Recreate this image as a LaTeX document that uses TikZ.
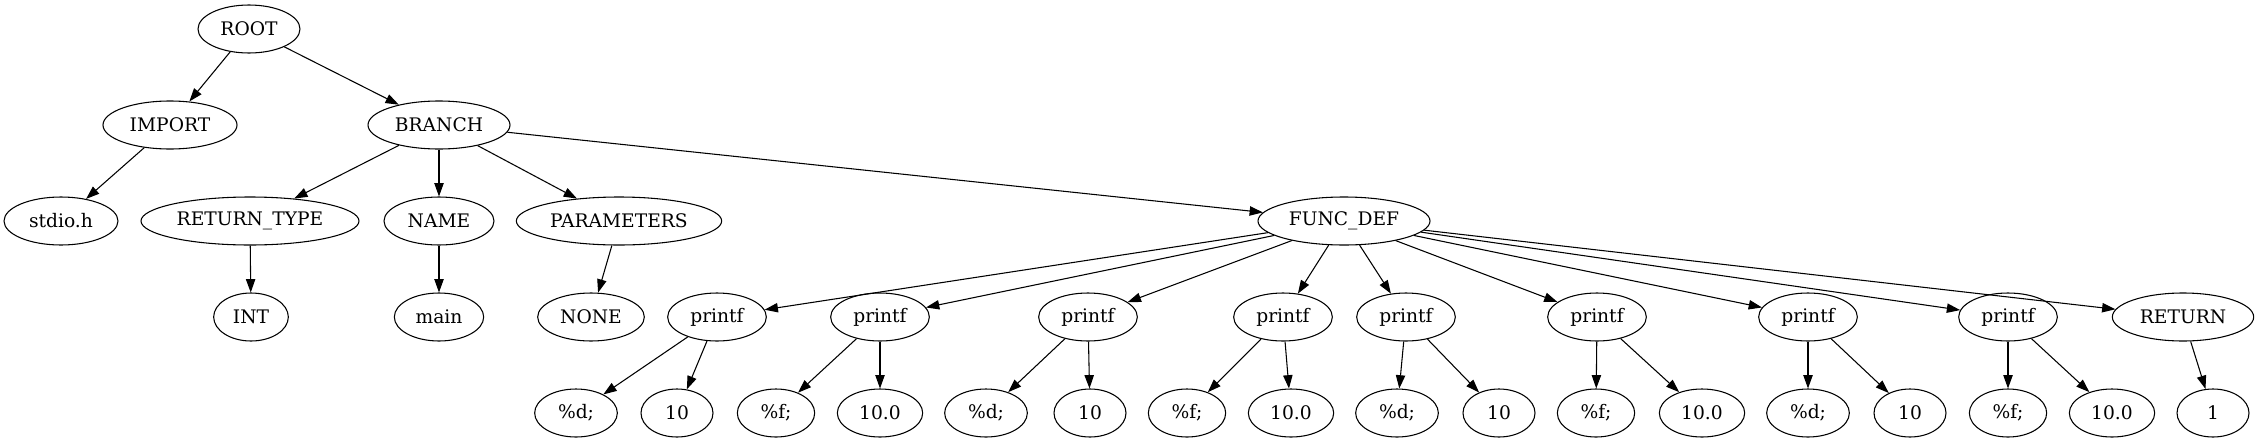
\documentclass[tikz,border=0pt]{standalone}
\usepackage{fontspec}
\setmainfont{DejaVu Serif}
\usetikzlibrary{shapes.geometric,arrows.meta}
\begin{document}
\begin{tikzpicture}[x=0.75pt,y=-0.75pt,%
                    v/.style={draw,ellipse,line width=0.8pt,inner sep=0pt,%
                    minimum width=#1pt,minimum height=36pt,%
                    font=\fontsize{14}{16}\selectfont},%
                    v/.default=54,%
                    e/.style={line width=0.8pt,-{Triangle[length=10pt,width=7pt]}}]
  \useasboundingbox (0,0) rectangle (2259,443);
  % rank 0 and 1
  \node[v=76.5] (root) at (249,29) {ROOT};
  \node[v=100.5] (import) at (170,125) {IMPORT};
  \node[v=106.5] (branch) at (439,125) {BRANCH};
  % rank 2
  \node[v=85.5] (stdio) at (61,221) {stdio.h};
  \node[v=163.5] (rettype) at (250,221) {RETURN\_TYPE};
  \node[v=82.5] (name) at (439,221) {NAME};
  \node[v=154] (params) at (619,221) {PARAMETERS};
  \node[v=129] (funcdef) at (1344,221) {FUNC\_DEF};
  % rank 3
  \node[v=56] (int) at (251,317) {INT};
  \node[v=67] (main) at (439,317) {main};
  \node[v=80] (none) at (591,317) {NONE};
  \node[v=74] (p1) at (717,317) {printf};
  \node[v=74] (p2) at (880,317) {printf};
  \node[v=74] (p3) at (1088,317) {printf};
  \node[v=74] (p4) at (1283,317) {printf};
  \node[v=74] (p5) at (1406,317) {printf};
  \node[v=74] (p6) at (1597,317) {printf};
  \node[v=74] (p7) at (1808,317) {printf};
  \node[v=74] (p8) at (2008,317) {printf};
  \node[v=106] (ret) at (2183,317) {RETURN};
  % rank 4
  \node[v=62] (fmt1) at (576,413) {\%d;};
  \node[v] (val1) at (677,413) {10};
  \node[v=58] (fmt2) at (776,413) {\%f;};
  \node[v=64] (val2) at (880,413) {10.0};
  \node[v=62] (fmt3) at (986,413) {\%d;};
  \node[v] (val3) at (1090,413) {10};
  \node[v=58] (fmt4) at (1187,413) {\%f;};
  \node[v=64] (val4) at (1291,413) {10.0};
  \node[v=62] (fmt5) at (1397,413) {\%d;};
  \node[v] (val5) at (1499,413) {10};
  \node[v=58] (fmt6) at (1596,413) {\%f;};
  \node[v=64] (val6) at (1702,413) {10.0};
  \node[v=62] (fmt7) at (1808,413) {\%d;};
  \node[v] (val7) at (1910,413) {10};
  \node[v=58] (fmt8) at (2008,413) {\%f;};
  \node[v=64] (val8) at (2112,413) {10.0};
  \node[v] (one) at (2213,413) {1};
  % edges
  \draw[e] (root) -- (import);
  \draw[e] (root) -- (branch);
  \draw[e] (import) -- (stdio);
  \draw[e] (branch) -- (rettype);
  \draw[e] (branch) -- (name);
  \draw[e] (branch) -- (params);
  \draw[e] (branch) -- (funcdef);
  \draw[e] (rettype) -- (int);
  \draw[e] (name) -- (main);
  \draw[e] (params) -- (none);
  \foreach \i in {1,...,8}{
    \draw[e] (funcdef) -- (p\i);
    \draw[e] (p\i) -- (fmt\i);
    \draw[e] (p\i) -- (val\i);
  }
  \draw[e] (funcdef) -- (ret);
  \draw[e] (ret) -- (one);
\end{tikzpicture}
\end{document}
